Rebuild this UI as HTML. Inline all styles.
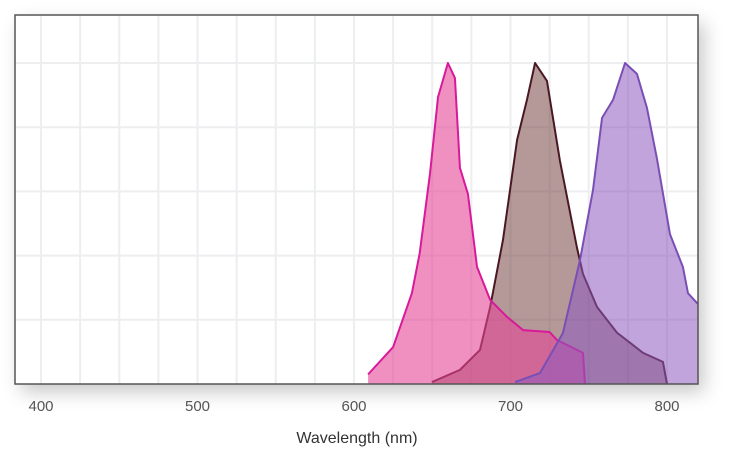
<!DOCTYPE html>
<html><head><meta charset="utf-8"><style>
body{margin:0;background:#fff;width:750px;height:456px;overflow:hidden;font-family:"Liberation Sans",sans-serif}
#plotbg{position:absolute;left:15px;top:15px;width:683px;height:369px;box-shadow:6px 8px 18px rgba(0,0,0,0.22);background:#fff}
svg{position:absolute;left:0;top:0}
</style></head><body>
<div id="plotbg"></div>
<svg id="chart" width="750" height="456"></svg>
<script>
const xTicks=[400,500,600,700,800];
const pinkW=[609,625,637,642,648.6,653.7,660,664.5,667.7,672.8,678.6,687,697.8,708,725,729.7,746.3,747.6];
const pinkV=[0.03,0.115,0.283,0.408,0.657,0.894,1.0,0.953,0.673,0.592,0.365,0.262,0.209,0.168,0.162,0.137,0.097,0];
const brownW=[649.8,667.7,680.5,687,695.2,704.2,710.5,715.7,723.3,731.6,742.5,746.3,755.3,768,784.7,797.4,800];
const brownV=[0.006,0.044,0.106,0.24,0.449,0.76,0.885,1.0,0.944,0.695,0.424,0.343,0.24,0.16,0.097,0.069,0];
const purpleW=[702.9,718.8,733.5,744.4,752.7,758.5,765.5,773.2,780.8,787.2,793.5,801.9,810.2,813.4,819.2,820];
const purpleV=[0.006,0.034,0.159,0.386,0.604,0.829,0.885,1.0,0.966,0.86,0.704,0.467,0.364,0.283,0.252,0.25];
const NS="http://www.w3.org/2000/svg";
const svg=document.getElementById('chart');
const L=15,T=15,R=698,B=384;
const x=w=>41+(w-400)*1.565;
const y=v=>B-v*321;
function mk(t,a){const e=document.createElementNS(NS,t);for(const k in a)e.setAttribute(k,a[k]);svg.appendChild(e);return e;}
// grid
for(let w=400;w<=820;w+=25){const g=mk('line',{x1:x(w),x2:x(w),y1:T,y2:B,stroke:'#eceef0','stroke-width':2});

}
for(let v=0.2;v<=1.01;v+=0.2){const g=mk('line',{x1:L,x2:R,y1:y(v),y2:y(v),stroke:'#eceef0','stroke-width':2});

}
const clip=mk('clipPath',{id:'cp'});const cr=document.createElementNS(NS,'rect');cr.setAttribute('x',L);cr.setAttribute('y',T);cr.setAttribute('width',R-L);cr.setAttribute('height',B-T);clip.appendChild(cr);
function series(W,V,fill,stroke,name){
 let d='M'+x(W[0])+','+B;let ld='';
 W.forEach((w,i)=>{d+=' L'+x(w)+','+y(V[i]);ld+=(i?' L':'M')+x(w)+','+y(V[i]);});
 d+=' L'+x(W[W.length-1])+','+B+' Z';
 const a=mk('path',{d:d,fill:fill,'clip-path':'url(#cp)'});
 
 
 const l=mk('path',{d:ld,fill:'none',stroke:stroke,'stroke-width':2,'stroke-linejoin':'round','clip-path':'url(#cp)'});
 
 
}
series(brownW,brownV,'rgba(120,70,70,0.55)','#4a1822','brown-series');
series(pinkW,pinkV,'rgba(228,70,150,0.6)','#d8199a','pink-series');
series(purpleW,purpleV,'rgba(140,90,190,0.55)','#7a4fb5','purple-series');
const fr=mk('rect',{x:L,y:T,width:R-L,height:B-T,fill:'none',stroke:'#555','stroke-width':1.5});


xTicks.forEach(t=>{const e=mk('text',{x:x(t),y:411,'text-anchor':'middle','font-size':15,fill:'#555'});e.textContent=t;

});
const xt=mk('text',{x:357,y:443,'text-anchor':'middle','font-size':16,fill:'#333'});xt.textContent='Wavelength (nm)';


</script>
</body></html>
